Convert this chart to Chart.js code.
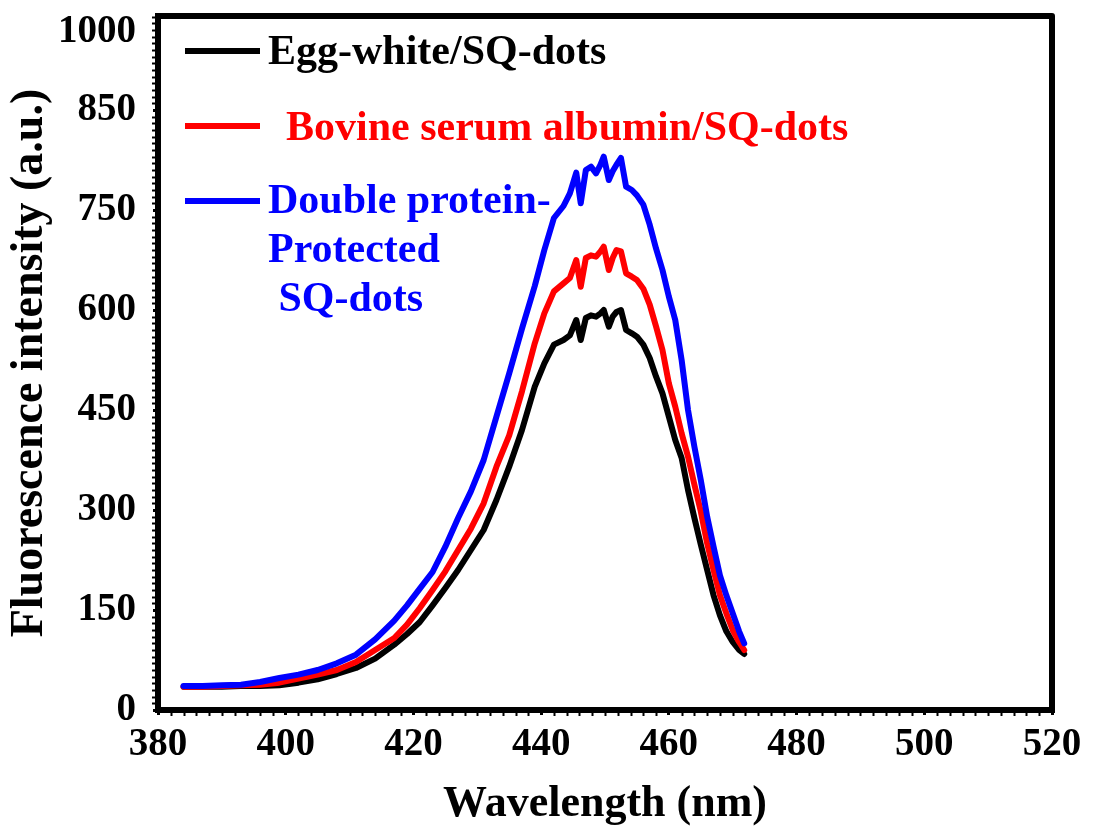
<!DOCTYPE html>
<html>
<head>
<meta charset="utf-8">
<title>Fluorescence spectra</title>
<script src="https://cdn.jsdelivr.net/npm/chart.js@4.4.1/dist/chart.umd.min.js"></script>
<style>
  html, body { margin: 0; padding: 0; background: #fff; }
</style>
</head>
<body>
<canvas id="spectraChart" width="1099" height="832"></canvas>
<script>
// emission wavelength (nm)
const wavelengths = [
  384, 387, 390, 393, 396, 399, 402, 405, 408, 411, 414, 417,
  419, 421, 423, 425, 427, 429, 431, 433, 435, 437, 439,
  440.5, 442, 443.5, 444.5, 445.5,
  446.2, 447, 447.8, 448.6, 449.3, 449.8, 450.6, 451.2, 451.8, 452.5, 453.3, 454.2, 455,
  456, 457, 458, 459, 460, 461, 462, 463, 464, 465, 466, 467, 468, 469, 470, 471,
  471.8
];

// intensities (a.u.)
const eggWhite = [
  35, 35, 35, 36, 36, 37, 41, 46, 54, 63, 77, 98,
  114, 132, 157, 183, 210, 240, 270, 315, 365, 420, 485,
  520, 548, 555, 562, 585,
  555, 588, 592, 590, 595, 600, 575, 590, 597, 600, 570, 565, 560,
  548, 528, 500, 475, 440, 405, 378, 330, 288, 248, 210, 172, 142, 118, 102, 90,
  84
];
const bsa = [
  35, 35, 36, 37, 38, 41, 47, 53, 60, 72, 90, 108,
  128, 153, 180, 208, 240, 272, 310, 365, 412, 478, 550,
  595, 628, 640, 648, 675,
  635, 678, 682, 680, 688, 695, 660, 678, 690, 688, 655, 650, 645,
  632, 608, 575, 540, 490, 455, 415, 380, 338, 298, 250, 210, 172, 145, 120, 102,
  90
];
const doubleProtein = [
  36, 36, 37, 38, 42, 48, 53, 60, 70, 83, 106, 134,
  157, 182, 207, 245, 288, 328, 375, 440, 505, 572, 636,
  690, 738, 756, 775, 806,
  760, 810, 815, 805, 818, 830, 795, 808, 818, 828, 785, 780, 772,
  758, 728, 692, 660, 620, 585, 525, 450, 395, 345, 290, 245, 202, 172, 145, 118,
  100
];

const seriesLabels = [
  "Egg-white/SQ-dots",
  "Bovine serum albumin/SQ-dots",
  ["Double protein-", "Protected", " SQ-dots"]
];
const seriesColors = ["#000000", "#ff0000", "#0000ff"];

const yTickValues = [0, 150, 300, 450, 600, 750, 900, 1017];
const yTickLabels = ["0", "150", "300", "450", "600", "750", "850", "1000"];

const FONT = '"Liberation Serif", "Times New Roman", serif';

function toPoints(values) {
  return values.map((v, i) => ({ x: wavelengths[i], y: v }));
}

// frame on top/right + minor ticks on both axes
const frameAndMinorTicks = {
  id: "frameAndMinorTicks",
  afterDraw(chart) {
    const { ctx, chartArea, scales } = chart;
    const { left, right, top, bottom } = chartArea;
    ctx.save();
    ctx.strokeStyle = "#000";
    ctx.lineWidth = 6;
    ctx.lineJoin = "round";
    ctx.beginPath();
    ctx.moveTo(left - 3, top);
    ctx.lineTo(right, top);
    ctx.lineTo(right, bottom + 3);
    ctx.stroke();

    ctx.lineWidth = 2;
    ctx.beginPath();
    for (let v = 10; v < scales.y.max; v += 10) {
      if (v % 150 === 0) continue;
      const y = Math.round(scales.y.getPixelForValue(v)) + 0.5;
      ctx.moveTo(left - 3, y);
      ctx.lineTo(left - 6, y);
    }
    for (let v = 382; v < 520; v += 2) {
      if (v % 20 === 0) continue;
      const x = Math.round(scales.x.getPixelForValue(v)) + 0.5;
      ctx.moveTo(x, bottom + 3);
      ctx.lineTo(x, bottom + 6);
    }
    ctx.stroke();
    ctx.restore();
  }
};

// legend block in the upper left of the plot
const legendBlock = {
  id: "legendBlock",
  afterDraw(chart) {
    const ctx = chart.ctx;
    const rows = [
      { lineY: 51, textX: 268, baselines: [64] },
      { lineY: 126, textX: 286, baselines: [140] },
      { lineY: 201, textX: 268, baselines: [213, 262, 311] }
    ];
    ctx.save();
    ctx.font = "bold 42px " + FONT;
    ctx.textBaseline = "alphabetic";
    chart.data.datasets.forEach((ds, i) => {
      const row = rows[i];
      ctx.strokeStyle = ds.borderColor;
      ctx.lineWidth = 6;
      ctx.lineCap = "butt";
      ctx.beginPath();
      ctx.moveTo(185, row.lineY);
      ctx.lineTo(260, row.lineY);
      ctx.stroke();
      ctx.fillStyle = ds.borderColor;
      const lines = Array.isArray(ds.label) ? ds.label : [ds.label];
      lines.forEach((t, j) => ctx.fillText(t, row.textX, row.baselines[j]));
    });
    ctx.restore();
  }
};

const ctx = document.getElementById("spectraChart").getContext("2d");
new Chart(ctx, {
  type: "line",
  data: {
    datasets: [eggWhite, bsa, doubleProtein].map((vals, i) => ({
      label: seriesLabels[i],
      data: toPoints(vals),
      borderColor: seriesColors[i],
      backgroundColor: seriesColors[i],
      borderWidth: 6,
      pointRadius: 0,
      tension: 0,
      borderJoinStyle: "round",
      borderCapStyle: "round",
      order: 3 - i
    }))
  },
  options: {
    responsive: false,
    animation: false,
    devicePixelRatio: 1,
    layout: { padding: { top: 16, right: 47, left: 0, bottom: 0 } },
    plugins: {
      legend: { display: false },
      tooltip: { enabled: false }
    },
    scales: {
      x: {
        type: "linear",
        min: 380,
        max: 520,
        ticks: {
          stepSize: 20,
          autoSkip: false,
          maxRotation: 0,
          padding: 7,
          color: "#000",
          font: { family: FONT, size: 39, weight: "bold" }
        },
        grid: {
          drawOnChartArea: false,
          drawTicks: true,
          tickLength: 5,
          tickWidth: 3,
          tickColor: "#000"
        },
        border: { display: true, color: "#000", width: 6 },
        title: {
          display: true,
          text: "Wavelength (nm)",
          color: "#000",
          font: { family: FONT, size: 44, weight: "bold" },
          padding: { top: 0, bottom: 1 }
        },
        afterFit(scale) {
          scale.height = 122;
          scale.paddingLeft = 0;
          scale.paddingRight = 0;
        }
      },
      y: {
        type: "linear",
        min: 0,
        max: 1041,
        afterBuildTicks(scale) {
          scale.ticks = yTickValues.map(v => ({ value: v }));
        },
        ticks: {
          autoSkip: false,
          padding: 17,
          color: "#000",
          font: { family: FONT, size: 39, weight: "bold" },
          callback: (value, index) => yTickLabels[index]
        },
        grid: {
          drawOnChartArea: false,
          drawTicks: true,
          tickLength: 5,
          tickWidth: 3,
          tickColor: c => (c.index === yTickValues.length - 1 ? "rgba(0,0,0,0)" : "#000")
        },
        border: { display: true, color: "#000", width: 6 },
        title: {
          display: true,
          text: "Fluorescence intensity (a.u.)",
          color: "#000",
          font: { family: FONT, size: 46, weight: "bold" },
          padding: { top: 3, bottom: 0 }
        },
        afterFit(scale) {
          scale.width = 158;
          scale.paddingTop = 0;
          scale.paddingBottom = 0;
        }
      }
    }
  },
  plugins: [frameAndMinorTicks, legendBlock]
});
</script>
</body>
</html>
